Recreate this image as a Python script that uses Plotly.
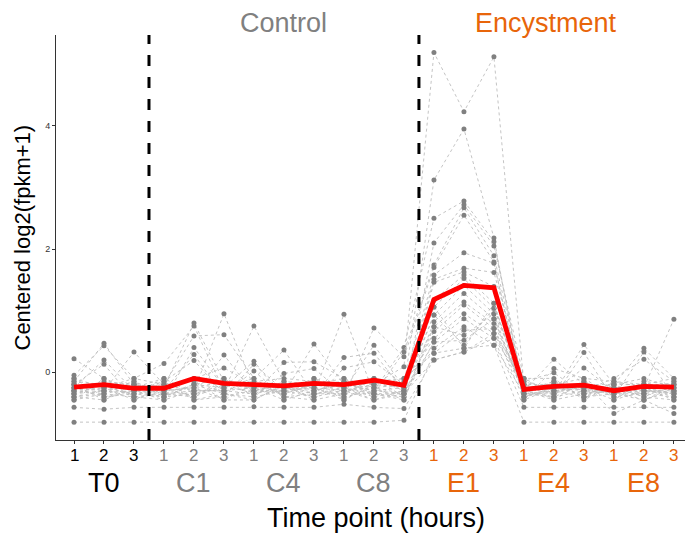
import plotly.graph_objects as go

# 21 samples: three replicates for each time point
groups = ["T0", "C1", "C4", "C8", "E1", "E4", "E8"]
replicates = ["1", "2", "3"]
group_colors = {"T0": "#000000", "C1": "#808080", "C4": "#808080", "C8": "#808080",
                "E1": "#E8650A", "E4": "#E8650A", "E8": "#E8650A"}
positions = list(range(1, 22))

# Centered log2(fpkm+1) for each gene in the cluster (T0 1-3, C1, C4, C8, E1, E4, E8)
genes = [
    [-0.81, -0.81, -0.81, -0.81, -0.81, -0.81, -0.81, -0.81, -0.81, -0.81, -0.81, -0.78, 0.31, 0.39, 0.44, -0.81, -0.81, -0.81, -0.81, -0.81, -0.81],
    [-0.57, -0.60, -0.57, -0.57, -0.57, -0.57, -0.56, -0.57, -0.57, -0.52, -0.57, -0.59, 0.20, 0.33, 0.55, -0.57, -0.57, -0.57, -0.57, -0.56, -0.57],
    [-0.30, -0.25, -0.35, -0.28, -0.10, 0.07, -0.20, -0.25, -0.30, -0.15, -0.20, 0.09, 5.19, 4.23, 5.12, -0.20, -0.30, -0.25, -0.28, -0.30, -0.32],
    [-0.15, 0.47, -0.20, -0.25, 0.80, -0.15, -0.30, -0.20, -0.25, -0.30, 0.44, -0.25, 3.12, 3.95, 2.18, -0.40, -0.25, -0.30, -0.35, -0.20, -0.30],
    [0.22, -0.10, -0.40, -0.35, -0.30, 0.95, -0.25, -0.35, 0.46, -0.20, -0.30, 0.40, 2.50, 2.78, 2.12, -0.30, 0.21, -0.20, -0.30, -0.35, -0.25],
    [-0.05, 0.43, -0.10, 0.14, 0.75, -0.30, 0.75, -0.15, -0.20, -0.30, -0.25, -0.35, 2.10, 2.72, 2.05, -0.10, -0.35, 0.45, -0.20, 0.39, -0.10],
    [-0.40, -0.30, 0.33, -0.20, 0.59, 0.61, -0.10, 0.36, -0.35, 0.94, -0.35, 0.33, 1.74, 2.67, 1.89, -0.25, -0.20, -0.40, -0.15, -0.25, 0.86],
    [-0.25, 0.20, -0.30, -0.45, 0.40, -0.25, 0.18, -0.45, -0.10, -0.40, 0.72, 0.25, 1.70, 2.55, 1.79, -0.45, 0.06, -0.10, -0.40, 0.33, -0.40],
    [-0.35, -0.20, -0.25, -0.10, -0.35, 0.28, -0.35, 0.16, 0.17, -0.10, -0.40, -0.15, 1.58, 1.94, 1.77, -0.35, -0.40, 0.32, -0.45, -0.15, -0.20],
    [-0.20, 0.13, -0.45, -0.30, 0.29, -0.40, 0.13, -0.30, -0.40, 0.24, 0.31, -0.30, 1.51, 1.69, 1.62, -0.15, -0.01, -0.35, -0.25, -0.40, -0.45],
    [-0.45, -0.35, -0.15, -0.40, -0.20, -0.10, -0.40, -0.02, 0.06, -0.35, -0.10, -0.40, 1.46, 1.63, 1.39, -0.30, -0.15, -0.30, -0.10, 0.21, -0.15],
    [-0.10, -0.40, -0.30, -0.15, 0.19, -0.35, 0.02, -0.40, -0.45, 0.07, 0.17, -0.20, 1.17, 1.58, 1.12, -0.40, -0.30, 0.07, -0.30, -0.30, -0.35],
    [-0.30, -0.15, -0.20, -0.35, -0.40, -0.20, -0.15, -0.10, -0.15, -0.45, -0.15, -0.10, 1.06, 1.52, 1.04, -0.20, -0.45, -0.15, -0.35, -0.45, -0.30],
    [-0.35, -0.25, -0.10, -0.20, -0.15, -0.45, -0.45, -0.20, -0.35, -0.25, -0.45, -0.30, 0.93, 1.41, 0.95, -0.10, -0.10, -0.45, -0.20, -0.10, -0.25],
    [-0.20, -0.30, -0.35, -0.10, -0.45, -0.40, -0.30, -0.35, -0.20, -0.15, -0.35, -0.45, 0.82, 1.28, 0.87, -0.35, -0.35, -0.20, -0.40, -0.35, -0.40],
    [-0.40, -0.45, -0.20, -0.30, -0.25, -0.15, -0.20, -0.25, -0.40, -0.30, -0.20, -0.25, 0.74, 1.14, 0.79, -0.25, -0.20, -0.10, -0.15, -0.20, -0.10],
    [-0.15, -0.20, -0.40, -0.45, -0.30, -0.30, -0.25, -0.30, -0.25, -0.40, -0.30, -0.35, 0.66, 1.09, 0.71, -0.45, -0.25, -0.35, -0.30, -0.25, -0.45],
    [-0.30, -0.35, -0.25, -0.25, -0.10, -0.20, -0.35, -0.15, -0.30, -0.20, -0.25, -0.20, 0.55, 0.95, 0.63, -0.30, -0.40, -0.30, -0.20, -0.40, -0.20],
    [-0.45, -0.10, -0.30, -0.35, -0.35, -0.25, -0.10, -0.40, -0.35, -0.35, -0.35, -0.40, 0.49, 0.87, 0.55, -0.15, -0.30, -0.25, -0.45, -0.30, -0.30],
    [-0.25, -0.40, -0.35, -0.40, -0.20, -0.35, -0.40, -0.30, -0.10, -0.25, -0.40, -0.30, 0.39, 0.74, 0.44, -0.35, -0.15, -0.40, -0.25, -0.25, -0.35],
    [-0.10, -0.25, -0.45, -0.25, -0.40, -0.10, -0.30, -0.20, -0.25, -0.45, -0.20, -0.10, 0.31, 0.68, 0.71, -0.25, -0.35, -0.15, -0.67, -0.45, -0.67],
    [-0.35, -0.30, -0.20, -0.30, -0.25, -0.45, -0.20, -0.35, -0.20, -0.10, -0.25, -0.45, 0.74, 0.60, 0.95, -0.40, -0.25, -0.25, -0.35, -0.35, -0.15],
    [-0.20, -0.45, -0.25, -0.20, -0.30, -0.30, -0.35, -0.25, -0.35, -0.30, -0.45, -0.35, 0.49, 0.52, 0.87, -0.30, -0.45, -0.35, -0.25, -0.25, -0.40],
    [-0.30, -0.20, -0.30, -0.40, -0.35, -0.20, -0.25, -0.45, -0.30, -0.20, -0.30, -0.25, 0.93, 0.44, 1.04, -0.20, -0.20, -0.30, -0.30, -0.45, -0.25],
    [-0.40, -0.35, -0.40, -0.15, -0.45, -0.35, -0.45, -0.20, -0.45, -0.35, -0.10, -0.30, 1.06, 0.39, 1.12, -0.35, -0.30, -0.40, -0.35, -0.30, -0.35],
    [-0.25, -0.30, -0.15, -0.35, -0.20, -0.25, -0.30, -0.30, -0.20, -0.25, -0.35, -0.35, 0.20, 0.33, 0.63, -0.10, -0.40, -0.20, -0.20, -0.20, -0.20],
]

# Cluster average profile
mean_profile = [-0.24, -0.20, -0.26, -0.26, -0.10, -0.18, -0.20, -0.22, -0.18, -0.20, -0.13, -0.21,
                1.18, 1.41, 1.37, -0.28, -0.23, -0.21, -0.30, -0.23, -0.24]

# Phase boundaries and headers
boundaries = [3.5, 12.5]
phases = [("Control", 8.0, "#808080"), ("Encystment", 16.73, "#E8650A")]

FONT = "Liberation Sans, Arial, sans-serif"

# plotting area in pixels
L, T, W = 56, 35, 629

fig = go.Figure()

for g in genes:
    fig.add_trace(go.Scatter(
        x=positions, y=g, mode="lines+markers",
        line=dict(color="#bdbdbd", width=0.9, dash="3px,3px"),
        marker=dict(color="#808080", size=5),
        showlegend=False, hoverinfo="skip",
    ))

fig.add_trace(go.Scatter(
    x=positions, y=mean_profile, mode="lines",
    line=dict(color="#FF0000", width=4.8),
    showlegend=False,
))

for b in boundaries:
    fig.add_shape(type="line", xref="x", yref="paper", x0=b, x1=b, y0=0, y1=1,
                  line=dict(color="black", width=3, dash="11px,11px"))

annotations = []
# replicate numbers and time-point names under the axis
for gi, grp in enumerate(groups):
    col = group_colors[grp]
    for ri, rep in enumerate(replicates):
        annotations.append(dict(
            x=gi * 3 + ri + 1, y=0, xref="x", yref="paper", text=rep,
            showarrow=False, yanchor="middle", yshift=-15,
            font=dict(family=FONT, size=17, color=col),
        ))
    annotations.append(dict(
        x=gi * 3 + 2, y=0, xref="x", yref="paper", text=grp,
        showarrow=False, yanchor="middle", yshift=-43,
        font=dict(family=FONT, size=27, color=col),
    ))

for name, xpos, col in phases:
    annotations.append(dict(
        x=xpos, y=1, xref="x", yref="paper", text=name,
        showarrow=False, yanchor="middle", yshift=12,
        font=dict(family=FONT, size=27, color=col),
    ))

# axis titles
annotations.append(dict(
    x=(376 - L) / W, y=0, xref="paper", yref="paper", text="Time point (hours)",
    showarrow=False, yanchor="middle", yshift=-78,
    font=dict(family=FONT, size=27, color="#000000"),
))
annotations.append(dict(
    x=(22 - L) / W, y=0.5, xref="paper", yref="paper", text="Centered log2(fpkm+1)",
    showarrow=False, xanchor="center", yanchor="middle", textangle=-90,
    font=dict(family=FONT, size=22, color="#000000"),
))

fig.update_layout(
    width=685, height=535,
    margin=dict(l=L, r=0, t=T, b=95),
    paper_bgcolor="white", plot_bgcolor="white",
    annotations=annotations,
    font=dict(family=FONT),
    xaxis=dict(
        range=[0.4, 21.37], tickvals=positions, showticklabels=False,
        ticks="outside", ticklen=3, tickcolor="#333333", tickwidth=1,
        showline=True, linecolor="#333333", linewidth=1,
        showgrid=False, zeroline=False,
    ),
    yaxis=dict(
        range=[-1.1, 5.475], tickvals=[0, 2, 4], ticktext=["0", "2", "4"],
        ticks="outside", ticklen=3, tickcolor="#333333", tickwidth=1,
        tickfont=dict(family=FONT, size=9, color="#333333"),
        showline=True, linecolor="#333333", linewidth=1,
        showgrid=False, zeroline=False,
    ),
)

fig.write_html("out.html")
